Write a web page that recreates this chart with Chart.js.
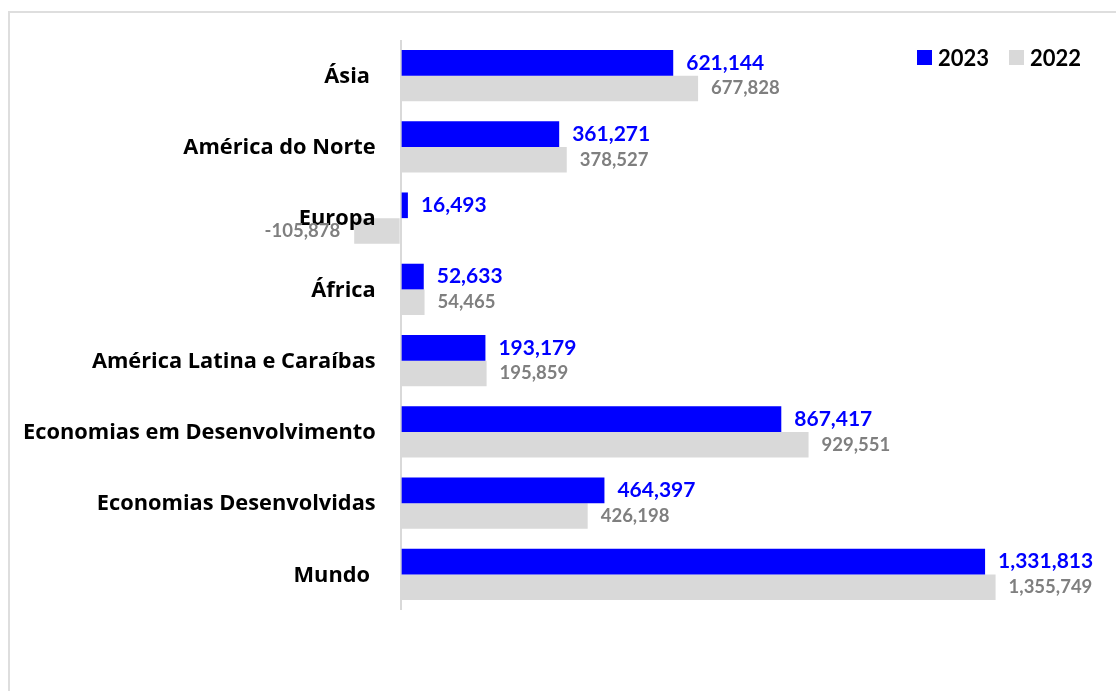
<!DOCTYPE html>
<html>
<head>
<meta charset="utf-8">
<script src="https://cdn.jsdelivr.net/npm/chart.js@4/dist/chart.umd.min.js"></script>
<style>
  html,body{margin:0;padding:0;background:#fff;}
  body{width:1116px;height:691px;position:relative;overflow:hidden;font-family:Lato,"Open Sans",sans-serif;}
  .frame{position:absolute;left:8px;top:11px;width:1200px;height:800px;border-top:2px solid #dedede;border-left:2px solid #dedede;}
  .wrap{position:absolute;left:0;top:0;width:1116px;height:691px;}
  .legend{position:absolute;top:44px;left:917px;display:flex;align-items:center;font-weight:700;font-size:22px;color:#000;}
  .legend .sw{width:15px;height:15px;display:inline-block;margin-right:6px;}
  .legend .it{display:flex;align-items:center;margin-right:20px;}
</style>
</head>
<body>
<div class="frame"></div>
<div class="wrap"><canvas id="chart" width="1116" height="691"></canvas></div>
<div class="legend" id="legend"></div>
<script>
// --------- DATA ----------
const categories = ['Ásia ','América do Norte','Europa','África','América Latina e Caraíbas','Economias em Desenvolvimento','Economias Desenvolvidas','Mundo '];
const seriesNames = ['2023','2022'];
const values2023 = [621144, 361271, 16493, 52633, 193179, 867417, 464397, 1331813];
const values2022 = [677828, 378527, -105878, 54465, 195859, 929551, 426198, 1355749];

const blue = '#0000ff';
const gray = '#d9d9d9';
const fmt = v => v.toLocaleString('en-US');

// --------- LEGEND ----------
const legend = document.getElementById('legend');
[[seriesNames[0], blue],[seriesNames[1], gray]].forEach(([n,c])=>{
  const el = document.createElement('span');
  el.className = 'it';
  el.innerHTML = `<span class="sw" style="background:${c}"></span>${n}`;
  legend.appendChild(el);
});

// --------- LABELS (categories next to the zero line + values) ----------
const labelPlugin = {
  id:'barLabels',
  afterDatasetsDraw(chart){
    const ctx = chart.ctx;
    const xs = chart.scales.x, ys = chart.scales.y;
    const zero = xs.getPixelForValue(0);

    // category names, right aligned left of the zero axis
    ctx.save();
    ctx.font = 'bold 21.8px "Open Sans"';
    ctx.fillStyle = '#000';
    ctx.textAlign = 'right';
    ctx.textBaseline = 'middle';
    chart.data.labels.forEach((lab,i)=>{
      ctx.fillText(lab, zero - 25, ys.getPixelForValue(i) + 1);
    });
    ctx.restore();

    chart.data.datasets.forEach((ds,di)=>{
      const meta = chart.getDatasetMeta(di);
      ctx.save();
      ctx.font = di===0 ? 'bold 21px Lato' : 'bold 18.5px Lato';
      ctx.fillStyle = di===0 ? blue : '#7f7f7f';
      ctx.textBaseline = 'middle';
      meta.data.forEach((bar,i)=>{
        const v = ds.data[i];
        if(v>=0){
          ctx.textAlign = 'left';
          ctx.fillText(fmt(v), bar.x + 13, bar.y);
        } else {
          ctx.textAlign = 'right';
          ctx.fillText(fmt(v), bar.x - 14, bar.y);
        }
      });
      ctx.restore();
    });
  }
};

// --------- CHART ----------
new Chart(document.getElementById('chart'), {
  type:'bar',
  data:{
    labels:categories,
    datasets:[
      {label:seriesNames[0], data:values2023, backgroundColor:blue, categoryPercentage:0.72, barPercentage:1},
      {label:seriesNames[1], data:values2022, backgroundColor:gray, categoryPercentage:0.72, barPercentage:1}
    ]
  },
  options:{
    indexAxis:'y',
    responsive:false,
    maintainAspectRatio:false,
    animation:false,
    layout:{padding:{left:0, top:40, bottom:81, right:101}},
    plugins:{legend:{display:false}, tooltip:{enabled:false}},
    scales:{
      x:{
        min:-120000, max:1400000,
        ticks:{display:false},
        border:{display:false},
        grid:{drawTicks:false, lineWidth:2, color:c => c.tick && c.tick.value===0 ? '#d9d9d9' : 'rgba(0,0,0,0)'},
        afterBuildTicks:s => { s.ticks = [{value:0}]; },
        afterFit:s => { s.height = 0; }
      },
      y:{
        grid:{display:false, drawTicks:false},
        border:{display:false},
        ticks:{display:false},
        afterFit:s => { s.width = 348; }
      }
    }
  },
  plugins:[labelPlugin]
});
</script>
</body>
</html>
